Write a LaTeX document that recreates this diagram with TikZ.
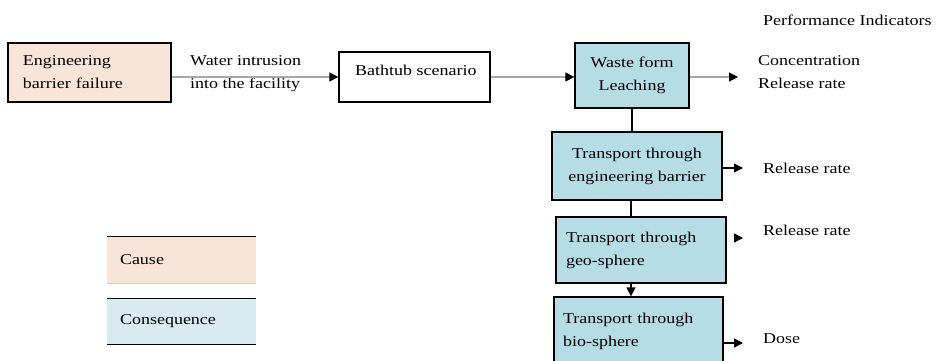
\documentclass[tikz,border=0pt]{standalone}
\usepackage{fontspec}
\setmainfont{Liberation Serif}[FakeStretch=1.2]
\usetikzlibrary{arrows.meta,positioning}
\definecolor{peach}{HTML}{F9E5D8}
\definecolor{cblue}{HTML}{B6DCE6}
\definecolor{lblue}{HTML}{D9EAF1}
\definecolor{lgray}{HTML}{A8A8A8}
\tikzset{
  txt/.style={font=\fontsize{15}{23}\selectfont, inner sep=0pt, align=left},
  box/.style={draw=black, line width=1.3pt, font=\fontsize{15}{23}\selectfont, inner ysep=0pt},
  conbox/.style={box, fill=cblue},
  tip/.style={-{Triangle[length=9pt,width=9pt,color=black]}},
  grayarrow/.style={tip, draw=lgray, line width=1.2pt},
  blackarrow/.style={tip, draw=black, line width=1.3pt},
  link/.style={draw=black, line width=1.3pt},
}
\begin{document}
\begin{tikzpicture}[x=1pt,y=-1pt]
\useasboundingbox (0,0) rectangle (937,361);

% main chain
\node[box, fill=peach, minimum width=163pt, minimum height=59pt, text width=133pt, inner xsep=15pt, align=left]
  (ebf) at (89.5,72.5) {Engineering\\barrier failure};
\node[box, fill=white, minimum width=151pt, minimum height=50pt] (bath) at (414.5,77) {};
\node[txt, anchor=west] (bathtxt) at (355,70) {Bathtub scenario};

\node[conbox, minimum width=114pt, minimum height=65pt, align=center] (waste) at (632,75.5) {Waste form\\Leaching};
\node[conbox, minimum width=170pt, minimum height=68pt, align=center] (teb) at (637,166) {Transport through\\engineering barrier};
\node[conbox, minimum width=170pt, minimum height=66pt, text width=150pt, inner xsep=10pt, align=left] (geo) at (641,250) {Transport through\\geo-sphere};
\node[conbox, minimum width=169pt, minimum height=69pt, text width=151pt, inner xsep=9pt, align=left] (bio) at (638.5,331.5) {Transport through\\bio-sphere};

% connector labels
\node[txt, anchor=west] (wi) at (190,73.5) {Water intrusion\\into the facility};

% performance indicators
\node[txt, anchor=west] (pi) at (763,20) {Performance Indicators};
\node[txt, anchor=west] (pi1) at (758,72) {Concentration\\Release rate};
\node[txt, anchor=west] (pi2) at (763,168) {Release rate};
\node[txt, anchor=west] (pi3) at (763,230) {Release rate};
\node[txt, anchor=west] (pi4) at (763,339) {Dose};

\coordinate (e1) at (738,77);
\coordinate (e2) at (743,168);
\coordinate (e3s) at (734,238);
\coordinate (e3) at (743,238);
\coordinate (e4) at (743,343);

% connectors
\draw[grayarrow] (ebf.east |- 0,77) -- (bath.west);
\draw[grayarrow] (bath.east) -- (waste.west |- bath.east);
\draw[grayarrow] (waste.east |- e1) -- (e1);
\draw[link] (waste.south) -- (waste.south |- teb.north);
\draw[blackarrow] (teb.east |- e2) -- (e2);
\draw[link] (631,0 |- teb.south) -- (631,0 |- geo.north);
\draw[blackarrow] (e3s) -- (e3);
\draw[blackarrow] (631,0 |- geo.south) -- (631,0 |- bio.north);
\draw[blackarrow] (bio.east |- e4) -- (e4);

% legend
\node[fill=peach, minimum width=149pt, minimum height=46pt, inner xsep=13pt, text width=123pt, align=left,
      font=\fontsize{15}{23}\selectfont] (cause) at (181.5,260) {Cause};
\draw[line width=1.3pt] (cause.north west) -- (cause.north east);
\draw[line width=0.8pt, draw=black!20] (cause.south west) -- (cause.south east);
\node[fill=lblue, minimum width=149pt, minimum height=45pt, inner xsep=13pt, text width=123pt, align=left,
      font=\fontsize{15}{23}\selectfont] (conseq) at (181.5,321.5) {Consequence};
\draw[line width=1.3pt] (conseq.north west) -- (conseq.north east);
\draw[line width=1.3pt] (conseq.south west) -- (conseq.south east);
\end{tikzpicture}
\end{document}
